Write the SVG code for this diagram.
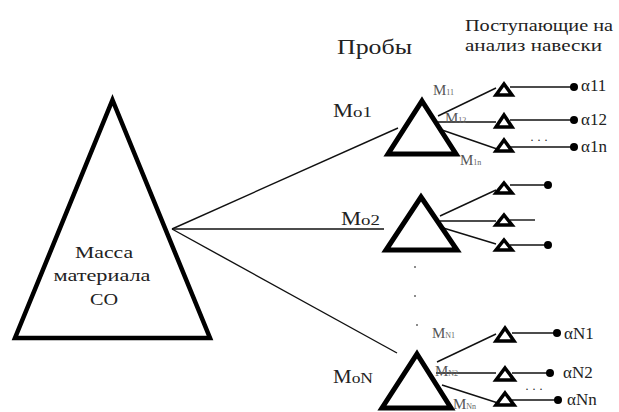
<svg xmlns="http://www.w3.org/2000/svg" width="619" height="412" viewBox="0 0 619 412" xml:lang="ru">
<style>
.tri{fill:none;stroke:#000;stroke-linejoin:miter}
.big{stroke-width:4.5}
.mid{stroke-width:5}
.sm{stroke-width:3.5}
.ln{stroke:#111;stroke-width:1.4;fill:none}
.dot{fill:#000}
.lab{font-size:18px}
.sub{font-size:15px;fill:#555}
.subs{font-size:8px;fill:#666}
.al{font-size:17px}
.vd{fill:#666}
</style>
<rect width="619" height="412" fill="#fff"/>
<g fill="#222">

<g id="titles">
<text x="337" y="54" font-family="Times New Roman, Liberation Serif, serif" font-size="20" textLength="75" lengthAdjust="spacingAndGlyphs">Пробы</text>
<text x="465" y="31" font-family="Times New Roman, Liberation Serif, serif" font-size="16" textLength="148" lengthAdjust="spacingAndGlyphs">Поступающие на</text>
<text x="465" y="51" font-family="Times New Roman, Liberation Serif, serif" font-size="16" textLength="137" lengthAdjust="spacingAndGlyphs">анализ навески</text>
</g>

<g id="connectors">
<line class="ln" x1="172" y1="229" x2="398" y2="128"/>
<line class="ln" x1="172" y1="229" x2="384" y2="229"/>
<line class="ln" x1="172" y1="229" x2="397" y2="353"/>
<line class="ln" x1="438" y1="116" x2="496" y2="88"/>
<line class="ln" x1="438" y1="122" x2="496" y2="122"/>
<line class="ln" x1="442" y1="130" x2="497" y2="149"/>
<line class="ln" x1="440" y1="216" x2="496" y2="190"/>
<line class="ln" x1="440" y1="221" x2="496" y2="221"/>
<line class="ln" x1="440" y1="227" x2="496" y2="244"/>
<line class="ln" x1="437" y1="362" x2="496" y2="334"/>
<line class="ln" x1="436" y1="373" x2="496" y2="373"/>
<line class="ln" x1="442" y1="385" x2="498" y2="403"/>
<line class="ln" x1="510" y1="87" x2="572" y2="87"/>
<line class="ln" x1="510" y1="120" x2="572" y2="120"/>
<line class="ln" x1="510" y1="147" x2="572" y2="147"/>
<line class="ln" x1="510" y1="185" x2="548" y2="185"/>
<line class="ln" x1="510" y1="220" x2="535" y2="220"/>
<line class="ln" x1="510" y1="245" x2="548" y2="245"/>
<line class="ln" x1="512" y1="333" x2="556" y2="333"/>
<line class="ln" x1="512" y1="373" x2="549" y2="373"/>
<line class="ln" x1="512" y1="400" x2="557" y2="400"/>
</g>

<g id="mass">
<path class="tri big" d="M112.5,100 L210,338 L15,338 Z"/>
<text x="104" y="258" font-family="Times New Roman, Liberation Serif, serif" font-size="16" text-anchor="middle" textLength="58" lengthAdjust="spacingAndGlyphs">Масса</text>
<text x="102" y="281" font-family="Times New Roman, Liberation Serif, serif" font-size="16" text-anchor="middle" textLength="97" lengthAdjust="spacingAndGlyphs">материала</text>
<text x="104" y="305" font-family="Times New Roman, Liberation Serif, serif" font-size="16" text-anchor="middle" textLength="28" lengthAdjust="spacingAndGlyphs">СО</text>
</g>

<g id="mo1">
<path class="tri mid" d="M422,101 L456,154 L388,154 Z"/>
<text class="lab" x="333" y="117" font-family="Times New Roman, Liberation Serif, serif" textLength="39" lengthAdjust="spacingAndGlyphs">M<tspan font-size="15">o1</tspan></text>
</g>
<g id="mo2">
<path class="tri mid" d="M421,197 L457,250 L386,250 Z"/>
<text class="lab" x="341" y="225" font-family="Times New Roman, Liberation Serif, serif" textLength="39" lengthAdjust="spacingAndGlyphs">M<tspan font-size="15">o2</tspan></text>
</g>
<g id="moN">
<path class="tri mid" d="M417,354 L451,408 L382,408 Z"/>
<text class="lab" x="333" y="383" font-family="Times New Roman, Liberation Serif, serif" textLength="40" lengthAdjust="spacingAndGlyphs">M<tspan font-size="15">oN</tspan></text>
</g>

<g id="vdots">
<circle class="vd" cx="415" cy="267" r="1"/>
<circle class="vd" cx="415" cy="296" r="1"/>
<circle class="vd" cx="417" cy="325" r="1"/>
</g>

<g id="s11"><path class="tri sm" d="M504,84 L512,95 L496,95 Z"/><circle class="dot" cx="574" cy="87" r="4"/><text class="al" x="581" y="91" font-family="Times New Roman, Liberation Serif, serif">α11</text><text class="sub" x="433" y="95" font-family="Times New Roman, Liberation Serif, serif">M<tspan class="subs">11</tspan></text></g>
<g id="s12"><path class="tri sm" d="M504,115 L512,127 L496,127 Z"/><circle class="dot" cx="574" cy="120" r="4"/><text class="al" x="581" y="125" font-family="Times New Roman, Liberation Serif, serif">α12</text><text class="sub" x="445" y="123" font-family="Times New Roman, Liberation Serif, serif">M<tspan class="subs">12</tspan></text></g>
<g id="s1n"><path class="tri sm" d="M504,140 L512,151 L496,151 Z"/><circle class="dot" cx="574" cy="147" r="4"/><text class="al" x="581" y="152" font-family="Times New Roman, Liberation Serif, serif">α1n</text><text class="sub" x="460" y="165" font-family="Times New Roman, Liberation Serif, serif">M<tspan class="subs">1n</tspan></text><text x="530" y="144" font-size="12" font-family="Times New Roman, Liberation Serif, serif">· · ·</text></g>

<g id="s21"><path class="tri sm" d="M504,183 L512,193 L496,193 Z"/><circle class="dot" cx="548" cy="185" r="4"/></g>
<g id="s22"><path class="tri sm" d="M504,215 L512,225 L496,225 Z"/></g>
<g id="s2n"><path class="tri sm" d="M504,240 L512,250 L496,250 Z"/><circle class="dot" cx="548" cy="245" r="4"/></g>

<g id="sN1"><path class="tri sm" d="M505,328 L514,341 L496,341 Z"/><circle class="dot" cx="557" cy="333" r="4"/><text class="al" x="564" y="339" font-family="Times New Roman, Liberation Serif, serif">αN1</text><text class="sub" x="432" y="338" font-family="Times New Roman, Liberation Serif, serif">M<tspan class="subs">N1</tspan></text></g>
<g id="sN2"><path class="tri sm" d="M505,368 L514,380 L496,380 Z"/><circle class="dot" cx="550" cy="373" r="4"/><text class="al" x="563" y="378" font-family="Times New Roman, Liberation Serif, serif">αN2</text><text class="sub" x="435" y="376" font-family="Times New Roman, Liberation Serif, serif">M<tspan class="subs">N2</tspan></text></g>
<g id="sNn"><path class="tri sm" d="M505,393 L514,405 L496,405 Z"/><circle class="dot" cx="558" cy="400" r="4"/><text class="al" x="567" y="405" font-family="Times New Roman, Liberation Serif, serif">αNn</text><text class="sub" x="453" y="409" font-size="14" font-family="Times New Roman, Liberation Serif, serif">M<tspan class="subs">Nn</tspan></text><text x="525" y="393" font-size="12" font-family="Times New Roman, Liberation Serif, serif">· · ·</text></g>
</g>
</svg>
